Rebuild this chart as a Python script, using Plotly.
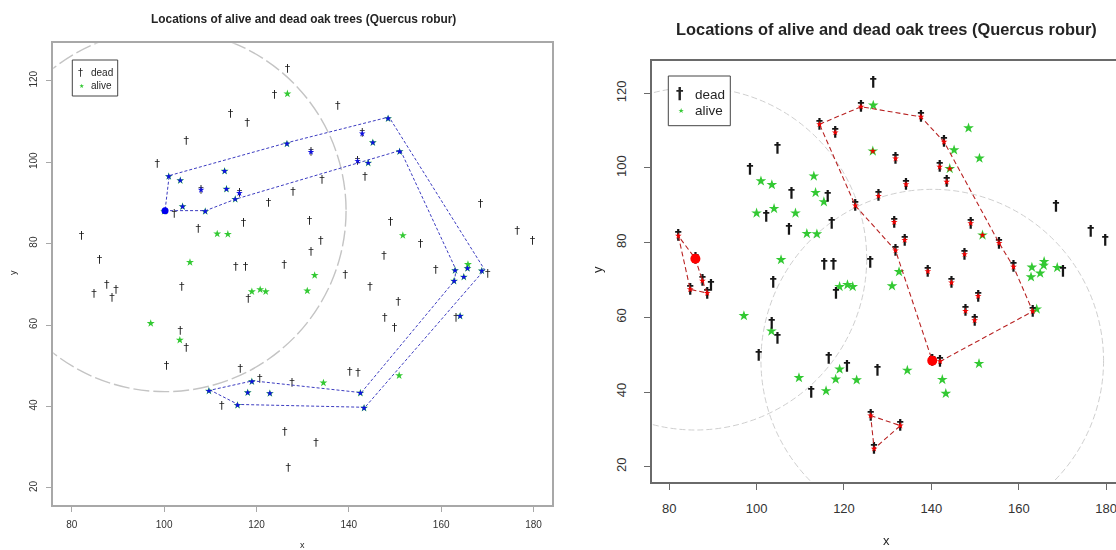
import plotly.graph_objects as go

W, H = 1116, 550

# ---------------- data ----------------
dead_x = [126.7, 123.9, 114.4, 118.0, 104.8, 98.5, 108.0, 116.3, 122.6, 127.9,
          102.2, 117.2, 107.4, 82.1, 86.0, 115.5, 117.6, 126.0, 137.6, 142.9,
          131.8, 141.9, 134.2, 143.5, 168.5, 131.5, 149.0, 133.9, 176.5, 179.8,
          131.8, 155.5, 147.6, 158.8, 139.2, 170.1, 84.8, 87.6, 88.7, 89.6,
          103.8, 118.2, 103.5, 104.8, 100.5, 116.5, 120.7, 127.7, 112.5, 126.1,
          126.9, 144.6, 150.7, 147.8, 149.9, 163.2, 140.2, 142.0, 132.9]
dead_y = [122.9, 116.4, 111.7, 109.5, 105.1, 99.5, 93.2, 92.4, 89.9, 92.5,
          87.1, 85.0, 83.5, 81.8, 75.8, 74.1, 74.1, 74.8, 113.7, 107.0,
          102.5, 100.3, 95.6, 96.3, 89.7, 85.5, 85.2, 80.7, 83.0, 80.6,
          77.9, 79.9, 76.9, 73.5, 72.3, 72.4, 67.5, 69.8, 66.5, 68.5,
          69.3, 66.3, 58.4, 54.4, 49.8, 49.1, 46.8, 45.8, 40.0, 33.7,
          24.8, 69.3, 65.7, 61.7, 59.2, 61.6, 48.4, 48.2, 31.0]

alive_x = [126.7, 126.6, 101.0, 103.5, 113.1, 113.5, 115.4, 100.0, 104.0, 108.9,
           111.5, 113.8, 105.6, 148.5, 145.2, 151.0, 144.2, 151.7, 132.6, 163.0,
           165.8, 165.7, 164.9, 162.8, 168.8, 119.0, 120.8, 122.0, 131.0, 97.1,
           103.4, 119.0, 109.7, 118.1, 122.9, 115.9, 134.5, 142.5, 143.3, 150.9,
           164.1]
alive_y = [116.8, 104.5, 96.5, 95.5, 97.8, 93.4, 90.9, 87.9, 89.1, 87.9,
           82.4, 82.3, 75.4, 110.7, 104.8, 102.6, 99.8, 82.0, 72.2, 73.4,
           74.9, 73.9, 71.8, 70.8, 73.3, 68.2, 68.7, 68.2, 68.4, 60.4,
           56.3, 46.1, 43.8, 43.4, 43.2, 40.3, 45.8, 43.3, 39.6, 47.6,
           62.2]

# left panel: trees flagged in blue and the dashed blue path
blue_pts_x = [101.0, 103.5, 113.1, 113.5, 115.4, 104.0, 108.9, 126.6, 148.5, 151.0,
              144.2, 145.2, 163.0, 165.7, 164.9, 162.8, 168.8, 164.1, 119.0, 109.7,
              118.1, 122.9, 115.9, 142.5, 143.3, 108.0, 116.3, 131.8, 142.9, 141.9]
blue_pts_y = [96.5, 95.5, 97.8, 93.4, 90.9, 89.1, 87.9, 104.5, 110.7, 102.6,
              99.8, 104.8, 73.4, 73.9, 71.8, 70.8, 73.3, 62.2, 46.1, 43.8,
              43.4, 43.2, 40.3, 43.3, 39.6, 93.2, 92.4, 102.5, 107.0, 100.3]
blue_path_x = [100.2, 109.0, 115.4, 151.2, 163.2, 162.9, 142.7, 119.2, 110.0, 116.0,
               143.5, 169.4, 148.7, 126.7, 101.1, 100.2]
blue_path_y = [88.1, 88.1, 90.9, 102.9, 73.6, 70.9, 43.4, 46.3, 44.0, 40.5,
               39.8, 73.6, 111.1, 104.8, 96.7, 88.1]
blue_center_x = [100.2]
blue_center_y = [88.1]

# right panel: trees flagged in red and the dashed red polygons
red_pts_x = [82.1, 84.8, 87.6, 88.7, 126.1, 126.9, 132.9, 123.9, 114.4, 118.0,
             122.6, 127.9, 137.6, 142.9, 131.8, 141.9, 134.2, 143.5, 131.5, 149.0,
             133.9, 131.8, 155.5, 147.6, 158.8, 139.2, 144.6, 150.7, 147.8, 149.9,
             163.2, 142.0, 126.6, 144.2, 151.7]
red_pts_y = [81.8, 67.5, 69.8, 66.5, 33.7, 24.8, 31.0, 116.4, 111.7, 109.5,
             89.9, 92.5, 113.7, 107.0, 102.5, 100.3, 95.6, 96.3, 85.5, 85.2,
             80.7, 77.9, 79.9, 76.9, 73.5, 72.3, 69.3, 65.7, 61.7, 59.2,
             61.6, 48.2, 104.5, 99.8, 82.0]
red_poly_a_x = [82.1, 84.8, 88.7, 87.6, 86.0, 82.1]
red_poly_a_y = [81.8, 67.5, 66.5, 69.8, 75.7, 81.8]
red_poly_b_x = [126.1, 132.9, 126.9, 126.1]
red_poly_b_y = [33.7, 31.0, 24.8, 33.7]
red_poly_c_x = [114.4, 123.9, 137.6, 142.9, 155.5, 158.8, 163.2, 142.0, 140.2, 131.8, 122.6, 114.4]
red_poly_c_y = [111.7, 116.4, 113.7, 107.0, 79.9, 73.5, 61.6, 48.2, 48.4, 77.9, 89.9, 111.7]
red_center_x = [86.0, 140.2]
red_center_y = [75.7, 48.4]

circle_r = 39.2          # radius in x units
x_ticks = [80, 100, 120, 140, 160, 180]
y_ticks = [20, 40, 60, 80, 100, 120]
title_text = "Locations of alive and dead oak trees (Quercus robur)"

# ---------------- panel geometry (pixels) ----------------
L = dict(x0=53.3, x1=552.0, top=43.3, bot=505.0, xr=[76, 184], yr=[15.8, 129.2])
R = dict(x0=651.7, x1=1116.0, top=61.0, bot=482.0,
         xr=[76, 76 + (1116 - 651.7) / 4.37], yr=[15.9, 128.65])

def dom(p):
    return [p["x0"] / W, p["x1"] / W], [1 - p["bot"] / H, 1 - p["top"] / H]

fig = go.Figure()
FONT = "Liberation Sans, Arial, sans-serif"
DAG_FONT = "DejaVu Sans, sans-serif"
GREEN = "#33c933"
DAG_COL = "#141414"

def add_panel(xa, ya, dag_size, star_size, weight):
    fig.add_trace(go.Scatter(x=alive_x, y=alive_y, mode="markers", xaxis=xa, yaxis=ya,
                             marker=dict(symbol="star", size=star_size, color=GREEN,
                                         line=dict(width=0)),
                             showlegend=False, hoverinfo="skip"))
    fig.add_trace(go.Scatter(x=dead_x, y=dead_y, mode="text", xaxis=xa, yaxis=ya,
                             text=["\u2020"] * len(dead_x), opacity=0.99,
                             textfont=dict(size=dag_size, color=DAG_COL, family=DAG_FONT,
                                           weight=weight),
                             showlegend=False, hoverinfo="skip"))

# left panel
add_panel("x", "y", 11, 6, "normal")
fig.add_trace(go.Scatter(x=blue_path_x, y=blue_path_y, mode="lines", xaxis="x", yaxis="y",
                         line=dict(color="#3c3cc0", width=1, dash="3px,2px"),
                         showlegend=False, hoverinfo="skip"))
fig.add_trace(go.Scatter(x=blue_pts_x, y=blue_pts_y, mode="markers", xaxis="x", yaxis="y",
                         marker=dict(symbol="star", size=5, color="#1010e0"),
                         showlegend=False, hoverinfo="skip"))
fig.add_trace(go.Scatter(x=blue_center_x, y=blue_center_y, mode="markers", xaxis="x", yaxis="y",
                         marker=dict(symbol="circle", size=7, color="#0000ee"),
                         showlegend=False, hoverinfo="skip"))

# right panel
add_panel("x2", "y2", 14, 8, "bold")
for px_, py_ in [(red_poly_a_x, red_poly_a_y), (red_poly_b_x, red_poly_b_y),
                 (red_poly_c_x, red_poly_c_y)]:
    fig.add_trace(go.Scatter(x=px_, y=py_, mode="lines", xaxis="x2", yaxis="y2",
                             line=dict(color="#b82222", width=1.1, dash="5px,3px"),
                             showlegend=False, hoverinfo="skip"))
fig.add_trace(go.Scatter(x=red_pts_x, y=red_pts_y, mode="markers", xaxis="x2", yaxis="y2",
                         marker=dict(symbol="star", size=5, color="#ee0000"),
                         showlegend=False, hoverinfo="skip"))
fig.add_trace(go.Scatter(x=red_center_x, y=red_center_y, mode="markers", xaxis="x2", yaxis="y2",
                         marker=dict(symbol="circle", size=10, color="#ff0000"),
                         showlegend=False, hoverinfo="skip"))

# circles (true circles on screen, radius given in x units)
def ry_for(p, r):
    ppx = (p["x1"] - p["x0"]) / (p["xr"][1] - p["xr"][0])
    ppy = (p["bot"] - p["top"]) / (p["yr"][1] - p["yr"][0])
    return r * ppx / ppy

shapes = []
ryL = ry_for(L, circle_r)
for cx, cy in zip(blue_center_x, blue_center_y):
    shapes.append(dict(type="circle", xref="x", yref="y", x0=cx - circle_r, x1=cx + circle_r,
                       y0=cy - ryL, y1=cy + ryL,
                       line=dict(color="#c4c4c4", width=1.4, dash="16px,4px"), layer="below"))
ryR = ry_for(R, circle_r)
for cx, cy in zip(red_center_x, red_center_y):
    shapes.append(dict(type="circle", xref="x2", yref="y2", x0=cx - circle_r, x1=cx + circle_r,
                       y0=cy - ryR, y1=cy + ryR,
                       line=dict(color="#cfcfcf", width=1, dash="6px,3px"), layer="below"))

# legend boxes
def box(x0, y0, x1, y1, color, w):
    return dict(type="rect", xref="paper", yref="paper", x0=x0 / W, x1=x1 / W,
                y0=1 - y1 / H, y1=1 - y0 / H, line=dict(color=color, width=w),
                fillcolor="white", layer="above")
shapes.append(box(72.3, 60, 117.7, 96, "#444", 1))
shapes.append(box(668.3, 76, 730.3, 125.7, "#444", 1))

ann = []
def text(x, y, s, size, color="#222", bold=False, xanchor="center", angle=0, family=FONT):
    ann.append(dict(x=x / W, y=1 - y / H, xref="paper", yref="paper",
                    text=("<b>%s</b>" % s) if bold else s, opacity=0.99,
                    showarrow=False, xanchor=xanchor, yanchor="middle", textangle=angle,
                    font=dict(size=size, color=color, family=family)))

text(303, 19, title_text, 11.9, bold=True)
text(886, 29, title_text, 16.4, bold=True)
text(302.6, 545, "x", 9)
text(13, 273, "y", 9, angle=-90)
text(886, 540, "x", 13)
text(597, 270, "y", 13, angle=-90)
# legend contents
text(80.7, 73, "\u2020", 10, family=DAG_FONT)
text(89.5, 73, "dead", 10, xanchor="left")
text(81.5, 85, "\u2605", 6, color=GREEN, family=DAG_FONT)
text(89.5, 85, "alive", 10, xanchor="left")
text(680, 94, "<b>\u2020</b>", 15, family=DAG_FONT)
text(692.5, 94, "dead", 13.5, xanchor="left")
text(681, 110.5, "\u2605", 7, color=GREEN, family=DAG_FONT)
text(692.5, 110.5, "alive", 13.5, xanchor="left")

xd, yd = dom(L)
xd2, yd2 = dom(R)
axcommon = dict(showgrid=False, zeroline=False, ticks="outside", showline=True,
                ticklabeloverflow="allow")
fig.update_layout(
    width=W, height=H, margin=dict(l=0, r=0, t=0, b=0),
    paper_bgcolor="white", plot_bgcolor="white", showlegend=False,
    xaxis=dict(domain=xd, range=L["xr"], anchor="y", tickvals=x_ticks, mirror=True,
               linecolor="#a8a8a8", linewidth=2, tickcolor="#a8a8a8", ticklen=5, tickwidth=1,
               tickfont=dict(size=10, color="#333", family=FONT), ticklabelstandoff=4, **axcommon),
    yaxis=dict(domain=yd, range=L["yr"], anchor="x", tickvals=y_ticks, mirror=True,
               linecolor="#a8a8a8", linewidth=2, tickcolor="#a8a8a8", ticklen=5, tickwidth=1,
               tickangle=-90, tickfont=dict(size=10, color="#333", family=FONT),
               ticklabelstandoff=5, **axcommon),
    xaxis2=dict(domain=xd2, range=R["xr"], anchor="y2", tickvals=x_ticks, mirror=True,
                linecolor="#6a6a6a", linewidth=1.6, tickcolor="#6a6a6a", ticklen=6, tickwidth=1,
                tickfont=dict(size=13, color="#333", family=FONT), ticklabelstandoff=8, **axcommon),
    yaxis2=dict(domain=yd2, range=R["yr"], anchor="x2", tickvals=y_ticks, mirror=False,
                linecolor="#6a6a6a", linewidth=1.6, tickcolor="#6a6a6a", ticklen=6, tickwidth=1,
                tickangle=-90, tickfont=dict(size=13, color="#333", family=FONT),
                ticklabelstandoff=13, **axcommon),
    shapes=shapes, annotations=ann,
)

fig.write_html("out.html")
